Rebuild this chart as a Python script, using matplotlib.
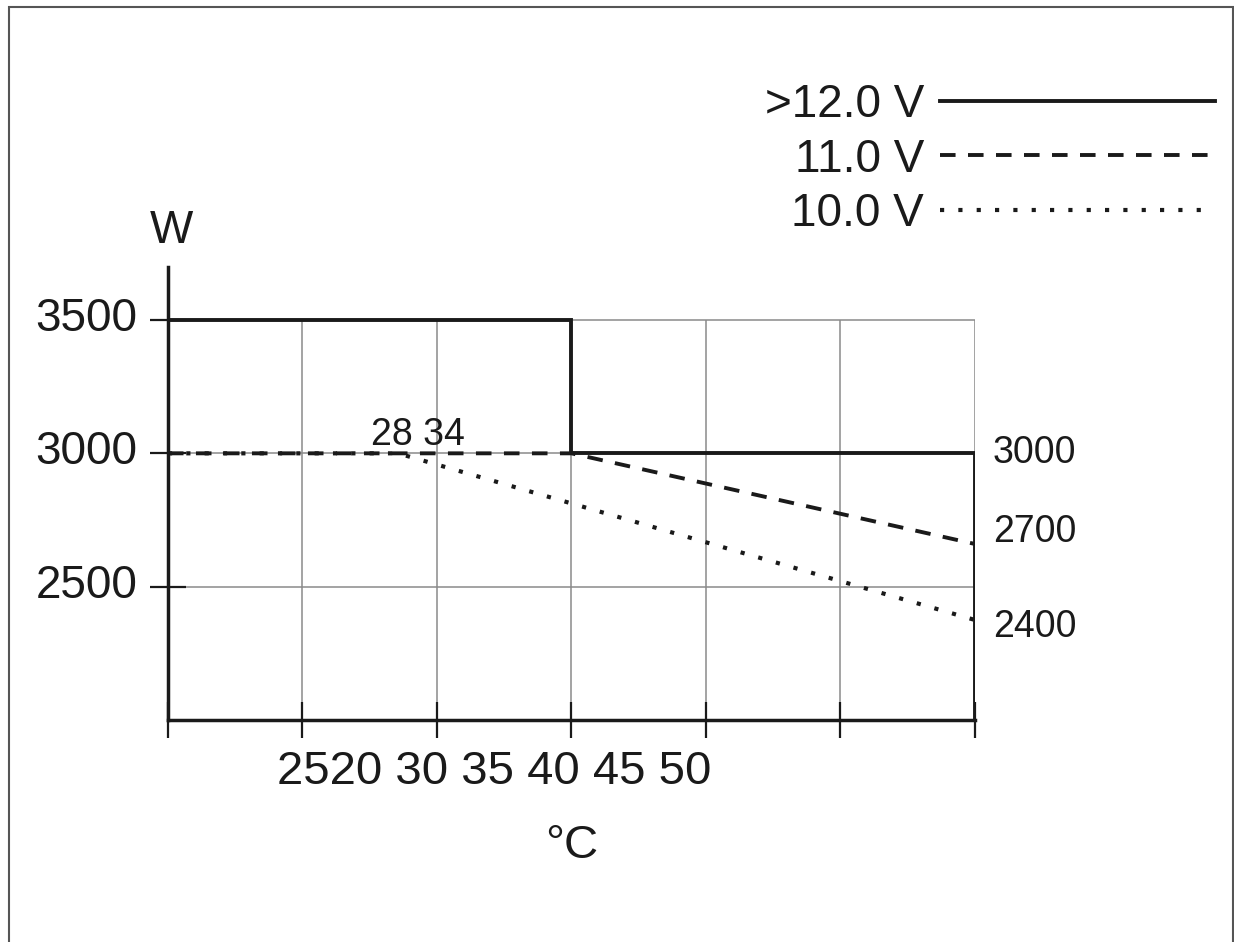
import matplotlib
matplotlib.use('Agg')
import matplotlib.pyplot as plt
from matplotlib.patches import Rectangle
from matplotlib.transforms import ScaledTranslation

plt.rcParams['font.family'] = ['Liberation Sans', 'DejaVu Sans']

# dados (x em divisões da grade, y em W)
x_12v = [0, 3, 3, 6, 6]
w_12v = [3500, 3500, 3000, 3000, 2000]
x_11v = [0, 3, 6]
w_11v = [3000, 3000, 2660]
x_10v = [0, 1.71, 6]
w_10v = [3000, 3000, 2375]

rotulos_serie = ['>12.0 V', '11.0 V', '10.0 V']
rotulos_x = ['2520', '30', '35', '40', '45', '50']
ticks_x = [0, 1, 2, 3, 4, 5, 6]
ticks_y = [2500, 3000, 3500]
rotulos_fim = ['3000', '2700', '2400']
pos_fim = [3000, 2705, 2350]
rotulo_inicio = '28 34'

cor = '#1a1a1a'
cinza = '#8a8a8a'

fig = plt.figure(figsize=(12.34, 9.42), dpi=100)
ax = fig.add_axes([0.1361, 0.2357, 0.6540, 0.4812])

# grade
ax.vlines(ticks_x[1:], 2000, 3500, color=cinza, lw=1.1, zorder=1)
ax.hlines(ticks_y, 0, 6, color=cinza, lw=1.1, zorder=1)

# curvas
l1, = ax.plot(x_12v, w_12v, color=cor, lw=2.8, solid_joinstyle='miter', zorder=4)
l2, = ax.plot(x_11v, w_11v, color=cor, lw=2.8, linestyle=(0, (4, 3.2)), zorder=3)
l3, = ax.plot(x_10v, w_10v, color=cor, lw=3.0, linestyle=(0, (1, 3.4)), zorder=3)

ax.set_xlim(0, 6)
ax.set_ylim(2000, 3700)
ax.spines['top'].set_visible(False)
ax.spines['right'].set_visible(False)
for s in ['left', 'bottom']:
    ax.spines[s].set_linewidth(2.5)
    ax.spines[s].set_color(cor)

ax.set_xticks(ticks_x)
ax.set_xticklabels([])
ax.set_yticks(ticks_y)
ax.set_yticklabels([str(v) for v in ticks_y], fontsize=33, color=cor)
ax.tick_params(axis='both', direction='inout', length=26.5, width=1.6, color=cor)
ax.tick_params(axis='y', pad=8.6)
desloc = ScaledTranslation(0, 6 / 100, fig.dpi_scale_trans)
for rot in ax.get_yticklabels():
    rot.set_transform(rot.get_transform() + desloc)

# rótulos do eixo x (como no original, desalinhados)
ax.text(0.404, -0.1147, ' '.join(rotulos_x), transform=ax.transAxes,
        ha='center', va='center', fontsize=34, color=cor)
ax.text(0.5, -0.278, '°C', transform=ax.transAxes, ha='center', va='center',
        fontsize=34, color=cor)
ax.text(0.0037, 1.0788, 'W', transform=ax.transAxes, ha='center', va='center',
        fontsize=33, color=cor)

# valores finais à direita
for txt, yv in zip(rotulos_fim, pos_fim):
    ax.annotate(txt, xy=(6, yv), xytext=(13, 0), textcoords='offset points',
                ha='left', va='center', fontsize=27, color=cor, annotation_clip=False)

ax.text(1.86, 3000, rotulo_inicio, ha='center', va='bottom', fontsize=27, color=cor)

# legenda
fig.legend([l1, l2, l3], rotulos_serie, loc='upper right',
           bbox_to_anchor=(1215 / 1234, 1 - 83 / 942), bbox_transform=fig.transFigure,
           frameon=False, markerfirst=False, fontsize=33, handlelength=6.0,
           handletextpad=0.35, labelspacing=0.23, borderpad=0, borderaxespad=0,
           labelcolor=cor)

# moldura
fig.patches.append(Rectangle((9 / 1234, -0.05), 1224 / 1234, 1.05 - 7 / 942,
                             transform=fig.transFigure, fill=False,
                             edgecolor='#555555', lw=1.5))

fig.savefig('out.png', dpi=100)
